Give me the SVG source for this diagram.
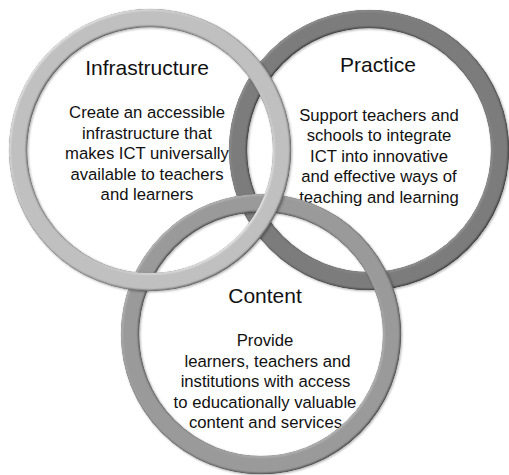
<svg xmlns="http://www.w3.org/2000/svg" width="509" height="475" viewBox="0 0 509 475">
  <defs>
    <style>
      .ring { fill: none; stroke-width: 18.5; filter: url(#ring3d); }
      .infra { stroke: #c0c0c0; }
      .practice { stroke: #7c7c7c; }
      .content { stroke: #9a9a9a; }
      .title { font-family: "Liberation Sans", Arial, sans-serif; font-size: 21px; fill: #111; text-anchor: middle; }
      .body { font-family: "Liberation Sans", Arial, sans-serif; font-size: 16.7px; fill: #111; text-anchor: middle; }
    </style>
    <!-- gentle bevel (diffuse light from the upper left) plus a small cast shadow -->
    <filter id="ring3d" x="-12%" y="-12%" width="124%" height="124%" color-interpolation-filters="sRGB">
      <feGaussianBlur in="SourceAlpha" stdDeviation="1.1" result="blur"/>
      <feDiffuseLighting in="blur" surfaceScale="1.1" diffuseConstant="1" lighting-color="#ffffff" result="diff">
        <feDistantLight azimuth="225" elevation="60"/>
      </feDiffuseLighting>
      <feComposite in="SourceGraphic" in2="diff" operator="arithmetic" k1="1.155" k2="0" k3="0" k4="0" result="shade"/>
      <feComposite in="shade" in2="SourceAlpha" operator="in" result="lit"/>
      <feOffset in="blur" dx="1" dy="1.2" result="off"/>
      <feFlood flood-color="#000000" flood-opacity="0.3"/>
      <feComposite in2="off" operator="in" result="shadow"/>
      <feMerge>
        <feMergeNode in="shadow"/>
        <feMergeNode in="lit"/>
      </feMerge>
    </filter>
  </defs>

  <rect width="509" height="475" fill="#ffffff"/>

  <g id="connectors"/>

  <g id="practice">
    <text class="title" x="378" y="71.5">Practice</text>
    <text class="body" x="379" y="120.5">Support teachers and</text>
    <text class="body" x="379" y="141">schools to integrate</text>
    <text class="body" x="379" y="161.5">ICT into innovative</text>
    <text class="body" x="379" y="182">and effective ways of</text>
    <text class="body" x="379" y="202.5">teaching and learning</text>
    <circle class="ring practice" cx="369" cy="150" r="131"/>
  </g>

  <g id="content">
    <text class="title" x="265" y="303">Content</text>
    <text class="body" x="265" y="346">Provide</text>
    <text class="body" x="267.5" y="366.5">learners, teachers and</text>
    <text class="body" x="265.5" y="387">institutions with access</text>
    <text class="body" x="265" y="407.5">to educationally valuable</text>
    <text class="body" x="265.5" y="428">content and services</text>
    <circle class="ring content" cx="261" cy="334" r="131"/>
  </g>

  <g id="infrastructure">
    <text class="title" x="147" y="75">Infrastructure</text>
    <text class="body" x="147" y="118">Create an accessible</text>
    <text class="body" x="147" y="138.5">infrastructure that</text>
    <text class="body" x="147" y="159">makes ICT universally</text>
    <text class="body" x="147" y="179.5">available to teachers</text>
    <text class="body" x="147" y="200">and learners</text>
    <circle class="ring infra" cx="150" cy="150" r="132"/>
  </g>
</svg>
